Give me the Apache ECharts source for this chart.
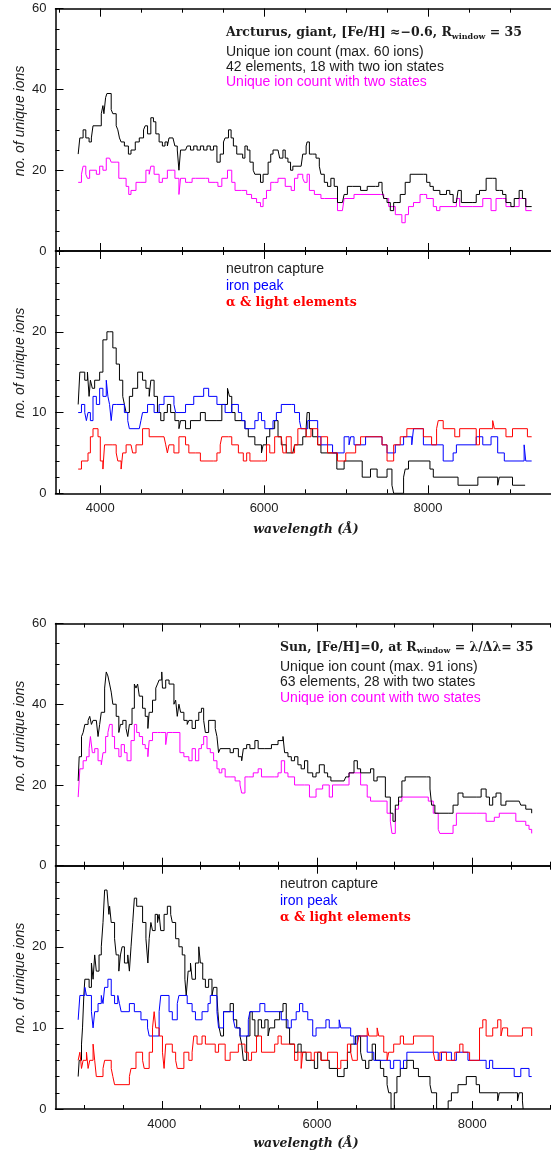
<!DOCTYPE html>
<html>
<head>
<meta charset="utf-8">
<script src="https://cdn.jsdelivr.net/npm/echarts@6/dist/echarts.min.js"></script>
<style>
  html, body { margin: 0; padding: 0; background: #fff; }
  #chart { width: 551px; height: 1156px; }
</style>
</head>
<body>
<div id="chart"></div>
<script>
// ---- Ion counts per wavelength window: [wavelength (Å), count], each value holds until the next point ----

// Arcturus, total unique ions and ions seen in two states
const arcTotal = [[3730,24],[3750,28],[3790,30],[3823,28],[3863,27],[3891,28],[3911,31],[3972,31],[4012,34],[4032,36],[4044,34],[4065,38],[4081,39],[4105,39],[4133,35],[4153,34],[4194,31],[4214,30],[4234,28],[4254,27],[4294,26],[4343,24],[4375,25],[4427,27],[4476,28],[4528,30],[4548,31],[4577,29],[4617,33],[4649,32],[4678,29],[4718,27],[4758,26],[4790,27],[4819,26],[4839,28],[4887,28],[4911,26],[4940,25],[4960,20],[4980,25],[5041,25],[5061,26],[5101,25],[5141,26],[5182,25],[5222,26],[5262,25],[5303,26],[5343,25],[5383,26],[5424,22],[5464,24],[5504,27],[5524,28],[5565,30],[5597,28],[5625,26],[5666,24],[5738,23],[5766,26],[5795,25],[5827,22],[5867,20],[5887,19],[5956,17],[5988,19],[6049,22],[6081,24],[6109,25],[6170,25],[6190,23],[6230,25],[6258,23],[6291,22],[6323,20],[6351,21],[6452,21],[6472,24],[6513,26],[6525,27],[6553,24],[6593,24],[6634,23],[6674,21],[6694,19],[6735,17],[6775,16],[6815,18],[6856,16],[6896,12],[6956,12],[6977,14],[7017,16],[7077,16],[7178,15],[7259,16],[7360,16],[7400,17],[7440,15],[7461,13],[7501,12],[7541,10],[7582,12],[7622,12],[7662,14],[7723,17],[7783,19],[7945,19],[7985,17],[8025,16],[8066,15],[8146,14],[8227,15],[8267,14],[8308,12],[8348,12],[8368,15],[8408,12],[8549,12],[8590,14],[8630,15],[8711,18],[8791,18],[8832,15],[8872,15],[8912,14],[8953,12],[9013,11],[9054,13],[9114,15],[9154,13],[9195,11],[9267,11]];
const arcTwo = [[3730,17],[3770,19],[3790,21],[3823,19],[3843,18],[3870,20],[3911,20],[3952,19],[3992,21],[4032,20],[4073,23],[4113,23],[4133,22],[4194,22],[4226,18],[4274,18],[4315,16],[4347,14],[4375,15],[4436,17],[4496,17],[4557,20],[4597,19],[4617,21],[4657,19],[4718,17],[4758,18],[4819,20],[4879,20],[4911,18],[4960,14],[4980,18],[5041,17],[5081,17],[5121,18],[5161,18],[5282,18],[5323,17],[5403,17],[5436,16],[5484,18],[5553,20],[5605,17],[5645,15],[5726,15],[5787,14],[5847,13],[5908,12],[5956,11],[5988,13],[6029,15],[6081,17],[6129,17],[6170,18],[6258,16],[6331,15],[6371,18],[6412,19],[6472,18],[6493,17],[6525,19],[6553,15],[6614,14],[6694,13],[6735,13],[6896,10],[6956,10],[6977,13],[7098,14],[7420,14],[7461,13],[7521,11],[7602,9],[7682,7],[7723,9],[7763,11],[7824,12],[7904,14],[7945,14],[7985,13],[8066,11],[8106,10],[8146,11],[8308,11],[8348,13],[8388,11],[8549,11],[8670,13],[8771,10],[8832,13],[8912,13],[8953,11],[9074,11],[9114,13],[9154,13],[9195,10],[9267,10]];

// Arcturus, ions split by nucleosynthetic group
const arcNeutron = [[3730,11],[3750,15],[3810,14],[3843,15],[3863,12],[3879,14],[3903,13],[3931,14],[3992,15],[4032,19],[4081,20],[4113,20],[4153,18],[4194,16],[4234,14],[4274,12],[4294,11],[4315,10],[4355,12],[4395,13],[4456,15],[4516,14],[4557,13],[4597,12],[4617,14],[4657,12],[4698,10],[4738,9],[4778,10],[4819,11],[4859,10],[4911,9],[4960,8],[4980,9],[5041,8],[5101,9],[5222,10],[5282,9],[5424,9],[5484,11],[5553,13],[5577,12],[5605,10],[5645,9],[5766,8],[5807,7],[5887,6],[5968,5],[5988,6],[6029,7],[6069,8],[6129,9],[6170,7],[6210,6],[6271,5],[6351,5],[6372,6],[6472,7],[6513,8],[6525,10],[6553,8],[6593,7],[6654,6],[6694,5],[6888,3],[6977,4],[7198,2],[7299,3],[7380,2],[7501,3],[7561,1],[7582,0],[7703,2],[7723,3],[7763,4],[8025,3],[8066,2],[8368,1],[8610,2],[8852,1],[8872,2],[9033,1],[9187,1]];
const arcIron = [[3730,10],[3770,11],[3810,10],[3830,9],[3850,10],[3879,9],[3911,12],[3952,11],[3992,13],[4032,12],[4073,14],[4093,12],[4113,11],[4133,9],[4153,11],[4194,11],[4294,10],[4335,9],[4355,8],[4476,8],[4496,9],[4516,10],[4577,11],[4657,10],[4718,11],[4778,12],[4899,11],[4920,10],[5041,11],[5141,12],[5262,13],[5323,12],[5424,11],[5524,10],[5605,11],[5686,10],[5726,9],[5766,8],[5887,9],[5928,10],[5968,9],[6009,8],[6109,9],[6150,10],[6210,11],[6331,11],[6372,10],[6432,9],[6452,8],[6533,9],[6654,7],[6694,6],[6836,5],[6977,7],[7037,6],[7057,7],[7098,6],[7239,7],[7440,6],[7501,5],[7602,6],[7703,7],[7803,6],[7824,8],[7945,6],[8187,4],[8308,5],[8348,6],[8590,7],[8670,6],[8771,7],[8852,5],[8933,4],[9175,6],[9195,4],[9267,4]];
const arcAlpha = [[3730,3],[3770,4],[3850,5],[3879,7],[3911,8],[3972,7],[4000,4],[4032,3],[4052,6],[4153,6],[4194,5],[4214,4],[4254,3],[4274,5],[4315,6],[4375,6],[4395,5],[4436,6],[4516,8],[4597,7],[4778,7],[4799,6],[4819,5],[4839,6],[4899,5],[4960,7],[5041,6],[5081,5],[5161,5],[5222,4],[5383,4],[5424,5],[5464,6],[5484,7],[5565,7],[5605,6],[5686,5],[5746,4],[5787,5],[5827,4],[5968,4],[6029,6],[6069,5],[6129,7],[6210,7],[6230,5],[6271,7],[6331,5],[6372,6],[6412,8],[6513,7],[6573,8],[6654,6],[6694,7],[6775,5],[6896,4],[6997,5],[7118,6],[7178,7],[7440,6],[7501,4],[7582,6],[7662,7],[7743,8],[7945,7],[8045,6],[8106,8],[8126,9],[8187,8],[8328,7],[8388,8],[8590,6],[8630,8],[8791,9],[8812,8],[8953,7],[9033,8],[9215,7],[9267,7]];

// Sun, total unique ions and ions seen in two states
const sunTotal = [[2923,21],[2936,27],[2966,32],[2987,33],[3009,35],[3051,36],[3072,37],[3094,35],[3115,36],[3157,36],[3179,32],[3200,35],[3221,38],[3264,44],[3285,48],[3306,47],[3328,45],[3349,43],[3370,40],[3413,37],[3447,33],[3468,35],[3498,36],[3540,34],[3562,32],[3583,35],[3617,39],[3647,45],[3668,44],[3689,45],[3711,42],[3753,39],[3787,37],[3821,34],[3838,38],[3881,41],[3923,44],[3945,45],[3966,46],[4000,48],[4009,44],[4051,46],[4094,45],[4157,40],[4179,41],[4200,37],[4221,40],[4243,38],[4285,36],[4328,35],[4349,36],[4391,34],[4434,36],[4477,38],[4511,39],[4540,36],[4562,33],[4604,36],[4647,36],[4689,34],[4711,32],[4732,28],[4753,29],[4881,28],[4923,29],[4987,27],[5030,26],[5051,29],[5094,30],[5136,29],[5200,31],[5242,29],[5328,29],[5413,30],[5498,31],[5562,32],[5583,28],[5626,27],[5669,26],[5711,27],[5754,25],[5796,24],[5839,26],[5881,23],[5945,22],[5988,23],[6030,25],[6094,23],[6137,22],[6179,21],[6349,21],[6371,22],[6413,23],[6477,26],[6520,24],[6562,23],[6690,24],[6732,21],[6775,22],[6881,17],[6945,13],[6979,11],[7009,15],[7051,17],[7094,21],[7136,22],[7413,22],[7456,19],[7477,15],[7519,13],[7690,13],[7753,15],[7817,18],[7881,17],[8051,17],[8115,19],[8179,17],[8222,15],[8264,17],[8307,18],[8370,15],[8434,16],[8605,16],[8626,15],[8690,14],[8766,13]];
const sunTwo = [[2923,17],[2945,24],[2987,26],[3030,27],[3064,29],[3081,32],[3106,28],[3136,29],[3179,26],[3221,25],[3243,28],[3277,32],[3306,33],[3328,35],[3362,32],[3392,29],[3447,27],[3477,30],[3519,28],[3553,26],[3604,31],[3647,35],[3677,33],[3711,32],[3753,30],[3787,29],[3821,27],[3838,31],[3881,33],[3945,33],[3987,33],[4051,30],[4072,33],[4136,33],[4234,28],[4285,27],[4349,26],[4391,29],[4434,26],[4477,29],[4511,30],[4540,32],[4583,29],[4625,28],[4668,26],[4711,24],[4740,23],[4774,24],[4817,22],[4881,22],[4945,21],[5008,20],[5030,18],[5072,22],[5115,22],[5179,23],[5242,24],[5285,22],[5455,22],[5498,23],[5540,26],[5583,23],[5626,22],[5711,20],[5839,20],[5903,17],[5988,19],[6073,20],[6158,17],[6200,20],[6349,20],[6413,23],[6562,20],[6647,17],[6690,16],[6903,13],[6945,11],[6966,8],[7009,14],[7051,16],[7094,17],[7434,16],[7498,13],[7562,9],[7583,8],[7753,10],[7796,13],[8051,13],[8179,11],[8285,12],[8349,13],[8562,11],[8690,10],[8732,9],[8766,8]];

// Sun, ions split by nucleosynthetic group
const sunNeutron = [[2923,4],[2936,6],[2966,8],[2979,10],[2996,14],[3009,16],[3064,15],[3094,18],[3115,16],[3136,19],[3157,17],[3192,19],[3221,20],[3243,23],[3264,27],[3294,27],[3319,24],[3328,25],[3349,23],[3392,21],[3413,19],[3447,17],[3468,19],[3489,20],[3519,18],[3562,19],[3583,17],[3604,20],[3626,23],[3647,26],[3677,25],[3711,25],[3753,23],[3796,21],[3821,18],[3838,21],[3860,23],[3881,22],[3915,24],[3945,23],[3966,24],[3987,22],[4030,24],[4072,25],[4115,24],[4136,23],[4179,21],[4221,20],[4264,19],[4298,16],[4315,14],[4340,17],[4370,18],[4391,16],[4434,18],[4477,20],[4498,18],[4528,16],[4562,15],[4604,16],[4647,14],[4668,15],[4711,14],[4723,12],[4740,10],[4762,9],[4796,12],[4881,13],[4923,11],[4966,10],[5008,9],[5030,8],[5051,6],[5094,9],[5136,12],[5166,11],[5200,9],[5242,11],[5285,10],[5328,11],[5370,9],[5391,10],[5455,11],[5519,12],[5562,13],[5604,10],[5647,8],[5711,7],[5754,8],[5796,7],[5860,6],[5966,5],[6009,7],[6052,6],[6158,5],[6264,4],[6349,5],[6392,7],[6434,8],[6498,9],[6562,7],[6583,6],[6626,5],[6668,6],[6711,8],[6754,6],[6817,5],[6860,4],[6903,3],[6924,2],[6954,0],[6996,2],[7030,4],[7073,5],[7158,6],[7243,5],[7307,4],[7456,3],[7477,2],[7541,0],[7690,1],[7732,2],[7817,3],[7924,4],[8051,3],[8094,2],[8328,1],[8349,2],[8541,2],[8583,1],[8605,2],[8647,1],[8656,0]];
const sunIron = [[2923,11],[2945,14],[3009,15],[3030,14],[3094,12],[3115,10],[3136,12],[3179,13],[3221,14],[3243,13],[3264,15],[3306,16],[3349,14],[3392,13],[3434,14],[3455,13],[3477,12],[3583,13],[3647,12],[3732,11],[3817,10],[3838,9],[3966,12],[3987,14],[4094,12],[4136,11],[4200,13],[4221,14],[4328,13],[4391,12],[4434,11],[4519,12],[4596,13],[4625,14],[4711,12],[4732,10],[4796,12],[4923,11],[4945,10],[5008,9],[5115,11],[5136,12],[5264,13],[5328,12],[5540,11],[5626,10],[5669,11],[5732,12],[5775,13],[5817,12],[5881,11],[5945,9],[5988,10],[6115,11],[6158,10],[6286,11],[6307,10],[6434,9],[6477,8],[6520,9],[6647,7],[6732,6],[6945,5],[6988,6],[7073,5],[7115,6],[7158,7],[7562,6],[7604,7],[7732,6],[7796,7],[7945,6],[8179,5],[8222,6],[8264,5],[8541,4],[8626,5],[8732,4],[8766,4]];
const sunAlpha = [[2923,6],[2945,7],[2966,5],[2987,6],[3030,7],[3051,5],[3072,6],[3115,8],[3136,6],[3157,4],[3243,5],[3264,6],[3349,5],[3370,4],[3392,3],[3583,4],[3604,5],[3668,7],[3753,6],[3774,5],[3838,7],[3881,10],[3902,12],[3923,10],[3966,9],[4009,7],[4030,5],[4051,8],[4136,7],[4179,6],[4200,5],[4285,7],[4349,6],[4391,7],[4413,9],[4455,8],[4519,9],[4562,8],[4689,7],[4732,8],[4817,6],[4881,7],[4987,8],[5072,7],[5115,6],[5157,7],[5221,9],[5285,7],[5455,8],[5498,9],[5540,8],[5626,8],[5711,6],[5754,7],[5796,5],[5817,7],[5924,6],[5966,7],[6052,6],[6137,7],[6264,5],[6307,6],[6392,8],[6434,7],[6456,6],[6520,8],[6541,9],[6647,10],[6668,9],[6775,10],[6796,9],[6860,7],[6903,6],[6924,7],[6988,8],[7073,9],[7115,8],[7243,9],[7498,7],[7519,6],[7583,7],[7668,6],[7775,7],[7839,8],[7881,7],[7966,6],[8094,10],[8136,11],[8179,9],[8264,10],[8328,11],[8370,9],[8392,10],[8456,9],[8647,10],[8766,9]];

// Tick labels
const upperYLabels = [0, 20, 40, 60];
const lowerYLabels = [0, 10, 20];
const wavelengthLabels = [4000, 6000, 8000];

// ---- Layout and styling ----
const SANS = '"Liberation Sans", Arial, Helvetica, sans-serif';
const SERIF = '"DejaVu Serif", "Liberation Serif", serif';
const INK = '#1c1c1c';
const BLACK = '#000000';
const MAGENTA = '#ff00ff';
const BLUE = '#0000ff';
const RED = '#ff0000';

const PLOT_LEFT = 55.5;
const PLOT_WIDTH = 500;

const panels = [
  { top: 8.7,   height: 242.3, xMin: 3453, xMax: 9503, yMax: 60, yMinor: 5, yMajor: 20, yLabels: upperYLabels, xLabels: false },
  { top: 251,   height: 242.3, xMin: 3453, xMax: 9503, yMax: 30, yMinor: 2, yMajor: 10, yLabels: lowerYLabels, xLabels: true },
  { top: 623.5, height: 242.2, xMin: 2631, xMax: 9015, yMax: 60, yMinor: 5, yMajor: 20, yLabels: upperYLabels, xLabels: false },
  { top: 865.7, height: 243.3, xMin: 2631, xMax: 9015, yMax: 30, yMinor: 2, yMajor: 10, yLabels: lowerYLabels, xLabels: true }
];

function multiplesWithin(lo, hi, step) {
  const out = [];
  for (let v = Math.ceil(lo / step) * step; v <= hi; v += step) out.push(v);
  return out;
}

const plainNumber = v => String(Math.round(v));

const grids = panels.map(p => ({ left: PLOT_LEFT, top: p.top, width: PLOT_WIDTH, height: p.height }));

const xAxes = [];
const yAxes = [];
panels.forEach((p, i) => {
  const minor = multiplesWithin(p.xMin, p.xMax, 500);
  const major = multiplesWithin(p.xMin, p.xMax, 2000);
  const base = { gridIndex: i, type: 'value', min: p.xMin, max: p.xMax, splitLine: { show: false } };
  ['bottom', 'top'].forEach(pos => {
    xAxes.push(Object.assign({}, base, {
      position: pos,
      axisLine: { show: true, onZero: false, lineStyle: { color: BLACK, width: 1.5 } },
      axisTick: { show: true, inside: true, length: 4, customValues: minor, lineStyle: { color: BLACK, width: 1 } },
      axisLabel: (pos === 'bottom' && p.xLabels)
        ? { show: true, customValues: wavelengthLabels, formatter: plainNumber, color: INK, fontSize: 13, fontFamily: SANS, margin: 9 }
        : { show: false }
    }));
    xAxes.push(Object.assign({}, base, {
      position: pos,
      axisLine: { show: false, onZero: false },
      axisTick: { show: true, inside: true, length: 8, customValues: major, lineStyle: { color: BLACK, width: 1 } },
      axisLabel: { show: false }
    }));
  });

  const yBase = { gridIndex: i, type: 'value', min: 0, max: p.yMax, position: 'left', splitLine: { show: false } };
  yAxes.push(Object.assign({}, yBase, {
    axisLine: { show: true, onZero: false, lineStyle: { color: BLACK, width: 1.5 } },
    axisTick: { show: true, inside: true, length: 4, customValues: multiplesWithin(0, p.yMax, p.yMinor), lineStyle: { color: BLACK, width: 1 } },
    axisLabel: { show: true, customValues: p.yLabels, formatter: plainNumber, color: INK, fontSize: 13, fontFamily: SANS, margin: 9 }
  }));
  yAxes.push(Object.assign({}, yBase, {
    axisLine: { show: false, onZero: false },
    axisTick: { show: true, inside: true, length: 8, customValues: multiplesWithin(0, p.yMax, p.yMajor), lineStyle: { color: BLACK, width: 1 } },
    axisLabel: { show: false }
  }));
});

const seriesDefs = [
  { panel: 0, name: 'Arcturus two states', data: arcTwo, color: MAGENTA },
  { panel: 0, name: 'Arcturus unique ions', data: arcTotal, color: BLACK },
  { panel: 1, name: 'Arcturus neutron capture', data: arcNeutron, color: BLACK },
  { panel: 1, name: 'Arcturus iron peak', data: arcIron, color: BLUE },
  { panel: 1, name: 'Arcturus alpha & light', data: arcAlpha, color: RED },
  { panel: 2, name: 'Sun two states', data: sunTwo, color: MAGENTA },
  { panel: 2, name: 'Sun unique ions', data: sunTotal, color: BLACK },
  { panel: 3, name: 'Sun neutron capture', data: sunNeutron, color: BLACK },
  { panel: 3, name: 'Sun iron peak', data: sunIron, color: BLUE },
  { panel: 3, name: 'Sun alpha & light', data: sunAlpha, color: RED }
];

const series = seriesDefs.map(s => ({
  type: 'line',
  name: s.name,
  xAxisIndex: s.panel * 4,
  yAxisIndex: s.panel * 2,
  data: s.data,
  step: 'end',
  symbol: 'none',
  showSymbol: false,
  silent: true,
  lineStyle: { color: s.color, width: 1 },
  itemStyle: { color: s.color }
}));

// ---- Annotations ----
function txt(x, y, text, style) {
  return {
    type: 'text', x: x, y: y, silent: true,
    style: Object.assign({
      text: text, fill: INK, fontFamily: SANS, fontSize: 14,
      align: 'left', verticalAlign: 'middle', textAlign: 'left', textVerticalAlign: 'middle'
    }, style || {})
  };
}

function serifTitle(x, y, before, after) {
  return txt(x, y, '{a|' + before + '}{s|window}{a|' + after + '}', {
    rich: {
      a: { fontFamily: SERIF, fontSize: 12.5, fontWeight: 'bold', fill: INK, lineHeight: 16, verticalAlign: 'middle' },
      s: { fontFamily: SERIF, fontSize: 8, fontWeight: 'bold', fill: INK, lineHeight: 8, verticalAlign: 'bottom' }
    }
  });
}

function yTitle(x, y) {
  return {
    type: 'text', x: x, y: y, rotation: Math.PI / 2, silent: true,
    style: {
      text: 'no. of unique ions', fill: INK, fontFamily: SANS, fontSize: 14, fontStyle: 'italic',
      align: 'center', verticalAlign: 'middle', textAlign: 'center', textVerticalAlign: 'middle'
    }
  };
}

function xTitle(x, y) {
  return txt(x, y, 'wavelength (Å)', {
    fontFamily: SERIF, fontSize: 12.5, fontStyle: 'italic', fontWeight: 'bold',
    align: 'center', textAlign: 'center'
  });
}

const alphaStyle = { fill: RED, fontFamily: SERIF, fontSize: 12.5, fontWeight: 'bold' };

const graphics = [
  serifTitle(226, 33, 'Arcturus, giant, [Fe/H] ≈−0.6, R', ' = 35'),
  txt(226, 51.7, 'Unique ion count (max. 60 ions)'),
  txt(226, 66.7, '42 elements, 18 with two ion states'),
  txt(226, 81.7, 'Unique ion count with two states', { fill: MAGENTA }),
  txt(226, 269.3, 'neutron capture'),
  txt(226, 286, 'iron peak', { fill: BLUE }),
  txt(226, 302.7, 'α & light elements', alphaStyle),
  xTitle(306, 530),
  yTitle(20, 121),
  yTitle(20, 363),

  serifTitle(280, 647.3, 'Sun, [Fe/H]=0, at R', ' = λ/Δλ= 35'),
  txt(280, 666.7, 'Unique ion count (max. 91 ions)'),
  txt(280, 682, '63 elements, 28 with two states'),
  txt(280, 697.7, 'Unique ion count with two states', { fill: MAGENTA }),
  txt(280, 884.3, 'neutron capture'),
  txt(280, 901, 'iron peak', { fill: BLUE }),
  txt(280, 917.7, 'α & light elements', alphaStyle),
  xTitle(306, 1144),
  yTitle(20, 736),
  yTitle(20, 978)
];

const chart = echarts.init(document.getElementById('chart'), null, { renderer: 'canvas' });
chart.setOption({
  animation: false,
  backgroundColor: '#ffffff',
  grid: grids,
  xAxis: xAxes,
  yAxis: yAxes,
  series: series,
  graphic: { elements: graphics }
});
</script>
</body>
</html>
